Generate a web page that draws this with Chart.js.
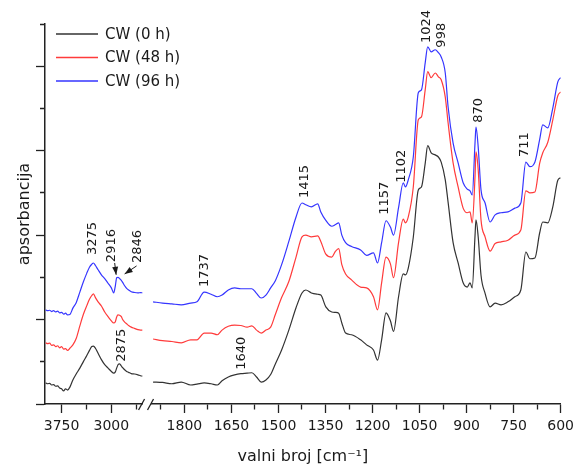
<!DOCTYPE html>
<html>
<head>
<meta charset="utf-8">
<script src="https://cdn.jsdelivr.net/npm/chart.js@4.4.1/dist/chart.umd.min.js"></script>
<style>
  body { margin: 0; background: #fff; }
</style>
</head>
<body>
<canvas id="chart-ftir" width="579" height="473"></canvas>
<script>
// wavenumbers [cm-1], left part of the broken axis
var wnLeft = [3990, 3960, 3930, 3900, 3870, 3840, 3810, 3780, 3750, 3720, 3690, 3660, 3625, 3580,
  3530, 3475, 3420, 3370, 3330, 3295, 3270, 3240, 3200, 3150, 3100, 3050, 3000, 2965, 2940, 2920,
  2900, 2875, 2850, 2830, 2800, 2770, 2740, 2700, 2650, 2600, 2560, 2530];

var cw0Left = [0.50, 0.48, 0.49, 0.45, 0.46, 0.42, 0.43, 0.38, 0.36, 0.31, 0.36, 0.33, 0.40, 0.57,
  0.71, 0.85, 1.01, 1.15, 1.27, 1.36, 1.37, 1.32, 1.20, 1.05, 0.93, 0.85, 0.77, 0.73, 0.76, 0.85,
  0.93, 0.95, 0.90, 0.86, 0.81, 0.77, 0.75, 0.72, 0.71, 0.69, 0.67, 0.66];

var cw48Left = [1.45, 1.43, 1.44, 1.39, 1.40, 1.36, 1.38, 1.33, 1.36, 1.30, 1.31, 1.27, 1.32, 1.40,
  1.55, 1.85, 2.13, 2.33, 2.48, 2.57, 2.61, 2.52, 2.42, 2.32, 2.18, 2.07, 1.97, 1.92, 1.95, 2.06,
  2.11, 2.10, 2.07, 2.00, 1.94, 1.90, 1.86, 1.82, 1.79, 1.76, 1.75, 1.75];

var cw96Left = [2.23, 2.21, 2.22, 2.19, 2.21, 2.18, 2.20, 2.16, 2.17, 2.13, 2.15, 2.11, 2.12, 2.27,
  2.40, 2.65, 2.90, 3.10, 3.24, 3.31, 3.34, 3.28, 3.18, 3.06, 2.97, 2.86, 2.75, 2.63, 2.80, 2.99,
  3.00, 2.97, 2.93, 2.88, 2.80, 2.74, 2.70, 2.66, 2.64, 2.63, 2.64, 2.63];

// right part of the broken axis
var wnRight = [1900, 1870, 1840, 1810, 1780, 1760, 1737, 1715, 1695, 1680,
  1660, 1640, 1620, 1600, 1585, 1570, 1555, 1540, 1525, 1510,
  1490, 1467, 1444, 1425, 1413, 1395, 1375, 1365, 1349, 1330,
  1318, 1308, 1298, 1286, 1267, 1238, 1219, 1197, 1184, 1171,
  1157, 1143, 1133, 1117, 1102, 1095, 1086, 1070, 1054, 1044,
  1032, 1024, 1013, 1000, 990, 981, 968, 959, 943, 927,
  911, 898, 889, 882, 873, 870, 863, 854, 841, 825,
  809, 790, 768, 746, 727, 711, 698, 682, 667, 657,
  641, 625, 609, 600];

var cw0Right = [0.52, 0.51, 0.48, 0.52, 0.45, 0.47, 0.50, 0.48, 0.45, 0.55,
  0.64, 0.69, 0.72, 0.73, 0.74, 0.64, 0.52, 0.57, 0.70, 0.95,
  1.28, 1.75, 2.28, 2.63, 2.70, 2.63, 2.60, 2.58, 2.30, 2.18,
  2.17, 2.15, 1.92, 1.68, 1.64, 1.52, 1.40, 1.28, 1.04, 1.52,
  2.16, 1.97, 1.72, 2.54, 3.08, 3.06, 3.22, 3.95, 5.07, 5.14,
  5.70, 6.12, 5.95, 5.90, 5.85, 5.73, 5.31, 4.78, 3.82, 3.34,
  2.87, 2.77, 2.87, 2.75, 4.00, 4.36, 3.96, 3.05, 2.62, 2.30,
  2.39, 2.35, 2.42, 2.54, 2.70, 3.60, 3.44, 3.46, 4.05, 4.31,
  4.29, 4.67, 5.30, 5.36];

var cw48Right = [1.54, 1.50, 1.48, 1.45, 1.52, 1.52, 1.68, 1.68, 1.64, 1.75,
  1.84, 1.87, 1.86, 1.82, 1.85, 1.75, 1.68, 1.75, 1.82, 2.12,
  2.52, 2.90, 3.48, 3.96, 4.00, 3.96, 3.98, 3.85, 3.55, 3.48,
  3.62, 3.68, 3.30, 3.08, 2.94, 2.77, 2.75, 2.54, 2.23, 2.87,
  3.48, 3.32, 2.99, 3.82, 4.38, 4.29, 4.43, 5.14, 6.73, 6.80,
  7.44, 7.87, 7.73, 7.84, 7.75, 7.68, 7.27, 6.66, 5.71, 5.14,
  4.64, 4.53, 4.55, 4.29, 5.40, 5.97, 5.55, 4.36, 3.96, 3.62,
  3.80, 3.84, 3.88, 4.00, 4.12, 5.05, 5.00, 5.02, 5.70, 5.95,
  6.20, 6.73, 7.30, 7.39];

var cw96Right = [2.42, 2.39, 2.37, 2.35, 2.39, 2.42, 2.65, 2.60, 2.54, 2.58,
  2.70, 2.75, 2.73, 2.73, 2.73, 2.62, 2.51, 2.58, 2.75, 2.92,
  3.30, 3.85, 4.43, 4.76, 4.72, 4.67, 4.74, 4.55, 4.35, 4.21,
  4.25, 4.29, 4.00, 3.82, 3.73, 3.65, 3.52, 3.58, 3.34, 3.82,
  4.34, 4.19, 4.00, 4.65, 5.24, 5.14, 5.31, 5.85, 7.37, 7.44,
  8.08, 8.46, 8.34, 8.39, 8.32, 8.22, 7.84, 7.04, 6.18, 5.71,
  5.24, 5.09, 5.05, 4.95, 6.20, 6.56, 6.09, 5.07, 4.76, 4.31,
  4.48, 4.53, 4.55, 4.64, 4.76, 5.73, 5.62, 5.73, 6.26, 6.61,
  6.54, 7.01, 7.63, 7.73];

var seriesNames = ['CW (0 h)', 'CW (48 h)', 'CW (96 h)'];
var seriesColors = ['#333333', '#ff3b3b', '#3535ff'];

var ticksLeft = [3750, 3375, 3000, 2625];
var majorLeft = [3750, 3000];
var ticksRight = [1875, 1800, 1725, 1650, 1575, 1500, 1425, 1350, 1275, 1200, 1125, 1050, 975, 900, 825, 750, 675, 600];
var majorRight = [1800, 1650, 1500, 1350, 1200, 1050, 900, 750, 600];

// peak labels: text bottom anchored at (wn, y)
var peaks = [
  {t: '3275', s: 'xL', x: 3280, y: 3.53},
  {t: '2916', s: 'xL', x: 2995, y: 3.36},
  {t: '2846', s: 'xL', x: 2605, y: 3.34},
  {t: '2875', s: 'xL', x: 2845, y: 1.00},
  {t: '1737', s: 'xR', x: 1737, y: 2.77},
  {t: '1640', s: 'xR', x: 1619, y: 0.81},
  {t: '1415', s: 'xR', x: 1416, y: 4.88},
  {t: '1157', s: 'xR', x: 1162, y: 4.48},
  {t: '1102', s: 'xR', x: 1108, y: 5.24},
  {t: '1024', s: 'xR', x: 1028, y: 8.55},
  {t: '998', s: 'xR', x: 981, y: 8.44},
  {t: '870', s: 'xR', x: 863, y: 6.66},
  {t: '711', s: 'xR', x: 714, y: 5.85}
];
var arrows = [
  {s: 'xL', from: [2950, 3.34], to: [2928, 3.06]},
  {s: 'xL', from: [2620, 3.27], to: [2800, 3.08]}
];

var ink = '#1a1a1a';
Chart.defaults.font.family = '"DejaVu Sans", sans-serif';
Chart.defaults.color = ink;

function pts(xs, ys) {
  return xs.map(function (x, i) { return {x: x, y: ys[i]}; });
}

function line(label, color, data, axis) {
  return {
    label: label, data: data, xAxisID: axis, yAxisID: 'y',
    borderColor: color, backgroundColor: color, borderWidth: 1.2,
    pointRadius: 0, cubicInterpolationMode: 'monotone', fill: false
  };
}

var datasets = [
  line(seriesNames[0], seriesColors[0], pts(wnLeft, cw0Left), 'xL'),
  line(seriesNames[1], seriesColors[1], pts(wnLeft, cw48Left), 'xL'),
  line(seriesNames[2], seriesColors[2], pts(wnLeft, cw96Left), 'xL'),
  line(seriesNames[0], seriesColors[0], pts(wnRight, cw0Right), 'xR'),
  line(seriesNames[1], seriesColors[1], pts(wnRight, cw48Right), 'xR'),
  line(seriesNames[2], seriesColors[2], pts(wnRight, cw96Right), 'xR')
];

var extras = {
  id: 'extras',
  afterDraw: function (chart) {
    var ctx = chart.ctx, area = chart.chartArea, y = chart.scales.y;
    ctx.save();
    // peak labels
    ctx.fillStyle = ink;
    ctx.font = '13px "DejaVu Sans"';
    ctx.textAlign = 'left';
    ctx.textBaseline = 'middle';
    peaks.forEach(function (p) {
      var px = chart.scales[p.s].getPixelForValue(p.x);
      var py = y.getPixelForValue(p.y);
      ctx.save();
      ctx.translate(px, py);
      ctx.rotate(-Math.PI / 2);
      ctx.fillText(p.t, 0, 0);
      ctx.restore();
    });
    // arrows
    ctx.strokeStyle = ink;
    ctx.lineWidth = 1;
    arrows.forEach(function (a) {
      var sc = chart.scales[a.s];
      var x1 = sc.getPixelForValue(a.from[0]), y1 = y.getPixelForValue(a.from[1]);
      var x2 = sc.getPixelForValue(a.to[0]), y2 = y.getPixelForValue(a.to[1]);
      var ang = Math.atan2(y2 - y1, x2 - x1);
      ctx.beginPath(); ctx.moveTo(x1, y1); ctx.lineTo(x2, y2); ctx.stroke();
      ctx.beginPath();
      ctx.moveTo(x2, y2);
      ctx.lineTo(x2 - 8 * Math.cos(ang) + 3 * Math.sin(ang), y2 - 8 * Math.sin(ang) - 3 * Math.cos(ang));
      ctx.lineTo(x2 - 8 * Math.cos(ang) - 3 * Math.sin(ang), y2 - 8 * Math.sin(ang) + 3 * Math.cos(ang));
      ctx.closePath(); ctx.fill();
    });
    // axis break marks
    ctx.strokeStyle = '#222';
    ctx.lineWidth = 1.3;
    [chart.scales.xL.right - 1, chart.scales.xR.left - 1].forEach(function (cx) {
      ctx.beginPath();
      ctx.moveTo(cx - 3, area.bottom + 6);
      ctx.lineTo(cx + 3, area.bottom - 5);
      ctx.stroke();
    });
    // legend inside the plot
    ctx.font = '15px "DejaVu Sans"';
    ctx.textAlign = 'left';
    seriesNames.forEach(function (name, i) {
      var ly = area.top + 10 + i * 23.5;
      ctx.strokeStyle = seriesColors[i];
      ctx.lineWidth = 1.4;
      ctx.beginPath(); ctx.moveTo(area.left + 11, ly); ctx.lineTo(area.left + 53, ly); ctx.stroke();
      ctx.fillStyle = ink;
      ctx.fillText(name, area.left + 60, ly + 1);
    });
    ctx.restore();
  }
};

function xAxis(weight, min, max, tickList, majors) {
  return {
    type: 'linear', axis: 'x', position: 'bottom', stack: 'wn', stackWeight: weight,
    reverse: true, min: min, max: max,
    afterBuildTicks: function (s) { s.ticks = tickList.map(function (v) { return {value: v}; }); },
    afterFit: function (s) { s.height = 43.4; },
    ticks: {
      autoSkip: false, maxRotation: 0, padding: 5, color: ink, font: {size: 14},
      callback: function (v) { return majors.indexOf(v) >= 0 ? String(v) : ''; }
    },
    grid: {
      drawOnChartArea: false, tickLength: 9, tickColor: '#222', tickWidth: 1.3,
      tickBorderDash: function (c) { return majors.indexOf(c.tick.value) >= 0 ? [] : [5, 100]; }
    },
    border: {color: '#222', width: 1.5}
  };
}

var config = {
  type: 'line',
  data: {datasets: datasets},
  options: {
    responsive: false,
    animation: false,
    devicePixelRatio: 1,
    layout: {padding: {left: 0, right: 16, top: 24, bottom: 6.4}},
    plugins: {
      legend: {display: false},
      tooltip: {enabled: false},
      title: {
        display: true, position: 'bottom', fullSize: false,
        text: 'valni broj [cm\u207B\u00B9]', color: ink, font: {size: 16, weight: 'normal'}, padding: 0
      }
    },
    scales: {
      xL: xAxis(98, 2530, 4000, ticksLeft, majorLeft),
      xGap: {type: 'linear', axis: 'x', position: 'bottom', stack: 'wn', stackWeight: 9, display: false},
      xR: xAxis(411, 600, 1905, ticksRight, majorRight),
      y: {
        type: 'linear', position: 'left', min: 0, max: 9,
        afterFit: function (s) { s.width = 45; },
        ticks: {stepSize: 1, display: false},
        grid: {
          drawOnChartArea: false, tickLength: 9, tickColor: '#222', tickWidth: 1.3,
          tickBorderDash: function (c) { return c.tick.value % 2 ? [0, 4, 5, 100] : []; }
        },
        border: {color: '#222', width: 1.5},
        title: {display: true, text: 'apsorbancija', color: ink, font: {size: 16}, padding: {top: 15, bottom: 0}}
      }
    }
  },
  plugins: [extras]
};

var ctx = document.getElementById('chart-ftir').getContext('2d');
window.ftirChart = new Chart(ctx, config);
</script>
</body>
</html>
